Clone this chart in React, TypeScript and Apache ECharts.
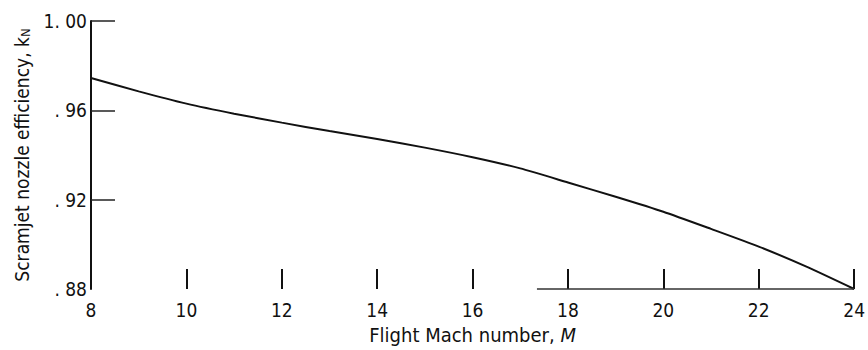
import React, { useEffect, useRef } from "react";
import * as echarts from "echarts";

// Flight Mach number samples and the nozzle efficiency
const machNumbers = [8, 9, 10, 11, 12, 13, 14, 15, 16, 17, 18, 19, 20, 21, 22, 23, 24];
const nozzleEfficiency = [
  0.9745, 0.9685, 0.963, 0.9585, 0.9545, 0.9507, 0.9472, 0.9433, 0.939, 0.934, 0.9277,
  0.9213, 0.9146, 0.9069, 0.899, 0.89, 0.88,
];
const xTicks = [8, 10, 12, 14, 16, 18, 20, 22, 24];
const yTickLabels: Record<string, string> = {
  "0.88": ". 88",
  "0.92": ". 92",
  "0.96": ". 96",
  "1.00": "1. 00",
};
const yTickMarks = [0.92, 0.96, 1.0];
// Baseline segment drawn along the bottom of the frame
const baselineStart = 17.35;
const baselineEnd = 24;

const FONT = "'Liberation Sans Narrow', 'DejaVu Sans Condensed', 'DejaVu Sans', sans-serif";

export default function App() {
  const ref = useRef<HTMLDivElement>(null);

  useEffect(() => {
    if (!ref.current) return;
    const chart = echarts.init(ref.current, undefined, { renderer: "svg" });
    chart.setOption({
      animation: false,
      backgroundColor: "#ffffff",
      grid: { left: 91, right: 8, top: 21, bottom: 51, containLabel: false },
      xAxis: {
        type: "value",
        min: 8,
        max: 24,
        interval: 2,
        name: "Flight Mach number, {it|M}",
        nameLocation: "middle",
        nameGap: 36,
        nameTextStyle: {
          fontFamily: FONT,
          fontSize: 20,
          color: "#111",
          rich: {
            it: { fontFamily: FONT, fontSize: 20, fontStyle: "italic", color: "#111" },
          },
        },
        axisLine: { show: false },
        axisTick: {
          show: true,
          inside: true,
          length: 20,
          lineStyle: { color: "#111", width: 2 },
        },
        axisLabel: {
          show: true,
          margin: 11,
          fontFamily: FONT,
          fontSize: 19,
          color: "#111",
          customValues: xTicks,
        },
        splitLine: { show: false },
      },
      yAxis: {
        type: "value",
        min: 0.88,
        max: 1.0,
        interval: 0.04,
        name: "Scramjet nozzle efficiency, k{sub|N}",
        nameLocation: "middle",
        nameRotate: 90,
        nameGap: 59,
        nameTextStyle: {
          fontFamily: FONT,
          fontSize: 19,
          color: "#111",
          rich: {
            sub: { fontFamily: FONT, fontSize: 13, color: "#111", verticalAlign: "bottom", padding: [7, 0, 0, 0] },
          },
        },
        axisLine: { show: true, lineStyle: { color: "#111", width: 2 } },
        axisTick: {
          show: true,
          inside: true,
          length: 24,
          customValues: yTickMarks,
          lineStyle: { color: "#222", width: 1.5 },
        },
        axisLabel: {
          margin: 4,
          fontFamily: FONT,
          fontSize: 19,
          color: "#111",
          formatter: (v: number) => yTickLabels[v.toFixed(2)] ?? "",
        },
        splitLine: { show: false },
      },
      series: [
        {
          type: "line",
          data: machNumbers.map((m, i) => [m, nozzleEfficiency[i]]),
          smooth: 0.2,
          showSymbol: false,
          lineStyle: { color: "#111", width: 2 },
          markLine: {
            silent: true,
            symbol: "none",
            label: { show: false },
            lineStyle: { color: "#333", width: 1.5, type: "solid" },
            data: [
              [
                { coord: [baselineStart, 0.88] },
                { coord: [baselineEnd, 0.88] },
              ],
            ],
          },
        },
      ],
    });
    return () => chart.dispose();
  }, []);

  return (
    <div
      ref={ref}
      style={{ position: "fixed", left: 0, top: 0, width: 868, height: 350, background: "#fff" }}
    />
  );
}
